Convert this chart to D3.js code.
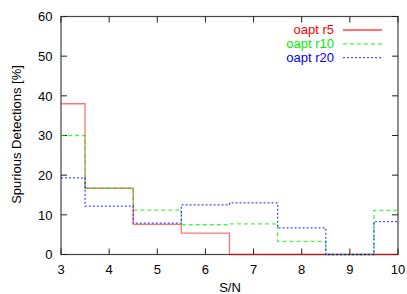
<!DOCTYPE html>
<html>
<head>
<meta charset="utf-8">
<script src="https://d3js.org/d3.v7.min.js"></script>
<style>
body { margin: 0; background: #fff; }
text { font-family: "Liberation Sans", Arial, sans-serif; font-size: 13px; }
</style>
</head>
<body>
<svg id="chart" width="407" height="294"></svg>
<script>
// bin edges in S/N and spurious fraction per bin (%)
var edges = [3, 3.5, 4.5, 5.5, 6.5, 7.5, 8.5, 9.5, 10]
var r5  = [38, 16.7, 7.6, 5.4, 0, 0, 0, 0]
var r10 = [30, 16.7, 11.2, 7.5, 7.7, 3.3, 0, 11.1]
var r20 = [19.3, 12.2, 7.9, 12.5, 13.0, 6.7, 0, 8.3]
var xTicks = [3, 4, 5, 6, 7, 8, 9, 10]
var yTicks = [0, 10, 20, 30, 40, 50, 60]

var series = [
    {name: "oapt r5",  values: r5,  color: "#ff0000", text: "#ff0000", dash: null,  opacity: 0.55},
    {name: "oapt r10", values: r10, color: "#00ee00", text: "#00ee00", dash: "4,3", opacity: 0.7},
    {name: "oapt r20", values: r20, color: "#0000ff", text: "#0000ff", dash: "2,2", opacity: 0.7}
]

var svg = d3.select("#chart")
var plotL = 61, plotR = 398, plotT = 16.5, plotB = 254.5

var x = d3.scaleLinear().domain([3, 10]).range([plotL, plotR])
var y = d3.scaleLinear().domain([0, 60]).range([plotB, plotT])

// frame
svg.append("rect")
    .attr("x", plotL).attr("y", plotT)
    .attr("width", plotR - plotL).attr("height", plotB - plotT)
    .attr("fill", "none")
    .attr("stroke", "#444")
    .attr("stroke-width", 1.2)

var tick = 6
xTicks.forEach(function(t) {
    svg.append("line").attr("x1", x(t)).attr("x2", x(t)).attr("y1", plotB).attr("y2", plotB - tick).attr("stroke", "#222")
    svg.append("line").attr("x1", x(t)).attr("x2", x(t)).attr("y1", plotT).attr("y2", plotT + tick).attr("stroke", "#222")
    svg.append("text").attr("x", x(t)).attr("y", 274).attr("text-anchor", "middle").text(t)
})
yTicks.forEach(function(t) {
    svg.append("line").attr("x1", plotL).attr("x2", plotL + tick).attr("y1", y(t)).attr("y2", y(t)).attr("stroke", "#222")
    svg.append("line").attr("x1", plotR).attr("x2", plotR - tick).attr("y1", y(t)).attr("y2", y(t)).attr("stroke", "#222")
    svg.append("text").attr("x", 52.5).attr("y", y(t) + 4.7).attr("text-anchor", "end").text(t)
})

// histogram steps
var line = d3.line()
    .x(function(d) { return x(d[0]) })
    .y(function(d) { return y(d[1]) })
    .curve(d3.curveStepAfter)

series.forEach(function(s) {
    var pts = s.values.map(function(v, i) { return [edges[i], v] })
    pts.push([edges[edges.length - 1], s.values[s.values.length - 1]])
    svg.append("path")
        .attr("d", line(pts))
        .attr("fill", "none")
        .attr("stroke", s.color)
        .attr("stroke-opacity", s.opacity)
        .attr("stroke-width", 1.3)
        .attr("stroke-dasharray", s.dash)
})

// axis labels
svg.append("text").attr("x", 230).attr("y", 292).attr("text-anchor", "middle").text("S/N")
svg.append("text")
    .attr("transform", "translate(20.5," + ((plotT + plotB) / 2 - 1) + ") rotate(-90)")
    .attr("text-anchor", "middle")
    .text("Spurious Detections [%]")

// legend
series.forEach(function(s, i) {
    var ly = 30 + i * 13.8
    svg.append("text").attr("x", 334).attr("y", ly + 4.3).attr("text-anchor", "end")
        .attr("fill", s.text).text(s.name)
    svg.append("line").attr("x1", 343).attr("x2", 382).attr("y1", ly).attr("y2", ly)
        .attr("stroke", s.color).attr("stroke-opacity", s.opacity)
        .attr("stroke-width", i == 0 ? 2 : 1.3)
        .attr("stroke-dasharray", s.dash)
})
</script>
</body>
</html>
